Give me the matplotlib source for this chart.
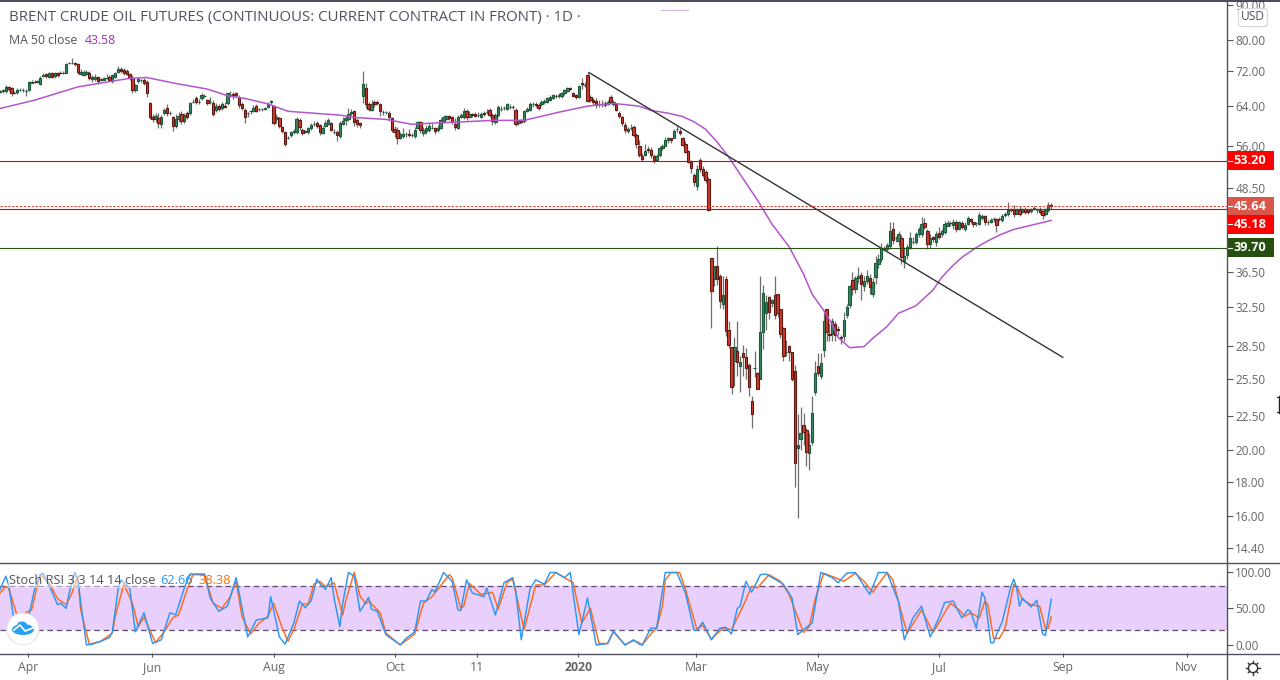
import numpy as np
import matplotlib
matplotlib.use("Agg")
import matplotlib.pyplot as plt
from matplotlib.patches import Circle, Ellipse, FancyBboxPatch, Rectangle

plt.rcParams["font.family"] = ["Open Sans", "DejaVu Sans"]

# --- daily OHLC, 10 bars per row ---
opens = [
    67.2,67.3,67.4,68.3,68.0,66.9,67.1,67.6,67.7,67.4,
    67.5,69.3,69.5,69.4,68.9,70.9,71.3,70.7,71.6,70.9,
    71.7,71.7,71.6,71.7,74.1,74.0,74.0,73.8,71.4,71.2,
    71.4,71.6,70.1,70.2,70.7,69.9,70.0,70.3,70.7,69.6,
    70.7,71.9,72.6,72.4,72.0,71.4,70.5,67.7,69.6,69.9,
    69.9,69.5,64.6,61.8,61.2,61.5,60.3,62.5,63.6,62.5,
    61.6,59.8,61.2,62.3,60.9,62.6,62.5,65.0,65.7,65.0,
    65.7,66.2,65.4,64.9,64.6,63.2,64.0,63.5,64.0,64.6,
    66.5,66.6,66.8,66.1,64.5,63.2,62.5,62.9,63.0,64.0,
    63.3,63.3,63.3,63.8,64.8,64.0,61.2,61.5,59.6,58.6,
    57.5,58.0,58.6,58.6,61.1,59.1,58.6,58.6,59.5,60.2,
    60.4,60.0,58.5,59.9,60.3,60.4,58.7,58.7,57.8,60.3,
    61.0,61.2,62.5,62.9,61.0,60.4,66.2,68.0,64.4,63.2,
    65.0,65.0,64.4,62.7,62.7,62.5,61.4,59.3,59.1,57.5,
    57.9,58.2,58.2,58.0,57.9,59.5,60.6,58.4,58.8,59.1,
    59.5,59.4,59.0,59.5,60.8,61.3,61.9,61.6,60.2,59.5,
    61.8,61.8,63.0,61.8,62.4,62.4,62.2,61.8,62.6,62.7,
    63.2,62.2,60.7,62.1,63.4,63.6,63.4,63.9,63.8,63.2,
    60.5,61.0,60.8,63.0,63.2,64.4,64.4,64.2,64.4,64.9,
    65.0,65.4,65.7,66.3,66.2,66.2,66.8,67.4,68.0,66.8,
    66.4,66.1,69.1,68.8,71.0,66.0,65.3,65.2,64.5,64.5,
    64.2,64.5,66.0,64.5,64.4,62.6,61.8,60.1,58.8,59.5,
    59.7,58.1,56.0,54.1,54.2,55.4,55.2,54.0,53.3,54.2,
    55.5,56.0,57.1,57.4,57.4,59.3,58.9,57.5,56.4,55.0,
    53.0,50.8,48.9,53.4,51.8,51.3,50.1,38.3,35.7,37.3,
    36.0,32.8,35.7,30.0,28.4,27.1,28.0,26.6,27.8,27.4,
    26.7,23.6,26.4,26.0,25.5,29.8,31.8,33.6,32.9,33.8,
    33.9,32.2,30.2,27.9,28.5,27.9,26.2,20.2,20.8,21.8,
    21.4,19.8,20.6,24.4,26.6,25.7,28.1,32.2,29.6,29.6,
    30.7,30.1,29.3,29.4,31.6,32.7,35.6,34.5,35.8,36.2,
    34.8,35.4,35.8,33.9,35.9,37.6,38.2,39.5,39.5,39.9,
    42.3,41.0,40.6,41.0,37.9,38.7,39.8,40.5,40.5,41.5,
    41.6,43.1,42.0,40.2,41.1,40.5,41.7,41.6,41.9,42.7,
    43.1,42.8,43.2,42.3,43.1,42.2,43.0,43.7,43.2,43.1,
    43.0,43.9,44.1,43.3,43.3,43.7,43.7,43.7,43.6,44.3,
    44.4,45.2,45.0,44.5,45.1,44.7,45.2,45.2,44.9,45.2,
    45.1,45.0,44.9,44.4,45.0,45.9,
]
closes = [
    67.4,67.6,68.3,67.9,66.8,67.0,67.7,67.7,67.7,67.3,
    69.4,69.5,69.4,69.6,70.5,71.1,70.8,71.6,70.7,71.5,
    71.0,71.6,71.7,73.8,74.0,74.0,73.8,71.8,71.9,71.9,
    71.9,70.4,70.6,70.7,69.6,70.1,70.3,70.4,69.8,71.0,
    71.5,72.6,72.0,71.6,71.4,70.5,67.6,68.7,70.1,69.9,
    69.1,66.8,61.8,61.2,62.0,60.4,61.6,63.2,62.6,62.5,
    59.8,61.2,62.0,60.8,62.2,61.8,64.6,65.0,65.0,65.0,
    66.4,66.3,64.6,65.0,62.4,64.0,63.3,64.4,63.9,66.8,
    66.5,66.5,66.5,64.3,63.6,61.8,62.5,62.9,63.7,63.0,
    63.3,63.3,63.6,64.5,65.1,60.4,61.8,59.8,58.8,56.4,
    57.5,58.6,58.8,61.3,59.6,58.4,58.8,59.4,60.1,60.3,
    59.8,58.7,59.4,60.5,61.0,59.1,58.7,58.0,60.5,60.9,
    61.4,62.4,62.8,60.7,60.2,60.0,68.9,64.4,63.4,64.4,
    64.4,64.6,63.0,62.7,62.7,61.6,59.1,58.7,57.5,58.2,
    58.2,58.2,58.1,58.0,59.1,60.6,59.1,59.1,59.5,59.9,
    59.5,58.8,59.5,61.0,61.7,61.9,61.4,60.7,59.6,61.8,
    62.2,63.0,61.7,62.3,62.2,62.0,62.2,62.3,62.3,62.8,
    62.2,60.8,62.2,63.9,63.4,63.6,64.4,63.9,63.8,60.2,
    60.8,60.7,62.9,63.4,64.4,64.4,64.3,63.6,65.0,65.2,
    65.7,66.0,66.4,66.2,66.5,66.8,67.5,68.0,67.9,66.2,
    65.9,68.5,68.9,68.8,65.2,65.3,64.8,64.3,64.5,64.5,
    64.7,64.9,65.0,65.0,63.2,61.9,60.4,59.1,59.3,59.5,
    58.1,56.4,54.2,53.6,55.0,55.1,54.2,53.2,54.0,55.5,
    56.0,57.1,57.4,57.1,58.9,59.3,58.4,56.2,54.8,53.0,
    52.0,49.5,51.7,51.7,50.8,49.9,45.1,34.3,37.3,35.7,
    33.1,33.8,29.9,28.6,24.8,28.4,27.0,27.0,27.4,26.4,
    24.8,22.6,26.4,24.6,29.8,34.0,33.0,31.9,33.2,31.6,
    31.8,29.6,27.5,27.9,27.9,25.5,19.2,20.4,21.2,21.3,
    19.9,20.4,22.7,26.0,26.0,26.9,31.0,29.8,29.5,31.0,
    29.5,30.0,29.2,31.1,32.5,34.8,34.5,35.8,36.0,35.1,
    35.4,36.0,34.7,35.3,37.7,38.2,39.6,39.6,40.0,42.0,
    40.7,41.0,41.6,38.5,38.6,39.8,41.0,40.5,41.5,42.2,
    43.0,42.6,40.2,41.0,40.8,41.6,41.2,42.0,43.0,43.1,
    43.1,43.2,42.3,43.2,42.6,42.9,43.8,43.4,43.0,43.1,
    44.3,44.2,43.2,43.3,43.5,43.7,42.9,43.7,44.2,44.5,
    45.1,45.0,44.4,45.0,44.4,45.1,44.8,44.8,45.2,45.4,
    45.1,44.7,44.3,45.0,45.8,45.6,
]
highs = [
    67.7,67.9,68.7,68.5,68.3,67.3,68.1,68.1,68.1,67.8,
    69.7,69.9,69.9,69.9,70.8,71.5,71.6,71.9,71.9,71.8,
    71.9,72.0,72.0,74.0,74.4,75.4,74.2,74.0,72.5,72.4,
    72.3,72.0,71.1,71.4,70.9,70.5,70.6,71.4,71.1,71.4,
    71.9,73.2,73.1,72.9,72.5,71.6,71.0,69.0,70.5,70.2,
    70.3,69.8,65.0,62.3,62.5,62.6,62.2,63.6,64.5,62.9,
    61.9,62.4,62.8,63.0,62.6,63.0,64.9,65.5,66.3,65.6,
    67.0,66.6,65.6,65.9,65.4,64.7,64.5,64.9,64.9,67.0,
    67.4,67.2,67.2,66.4,64.8,63.5,62.8,63.2,64.2,64.5,
    63.7,63.6,63.9,64.9,65.4,64.2,62.3,61.7,59.9,58.8,
    57.8,58.9,59.2,61.6,61.4,59.4,59.0,59.7,60.5,60.9,
    60.8,60.3,59.9,61.0,61.4,60.6,59.2,59.0,60.9,61.6,
    61.9,63.6,63.3,63.2,61.4,60.6,72.0,69.1,64.9,65.3,
    65.4,65.3,64.6,63.2,63.0,62.9,61.8,59.9,59.7,58.6,
    59.4,58.6,59.3,58.4,59.6,60.9,60.9,59.7,60.1,60.5,
    60.4,59.7,60.1,61.4,62.2,62.2,62.1,62.0,61.4,62.1,
    62.6,63.5,63.3,62.9,62.6,62.7,62.7,62.7,63.0,63.3,
    63.7,62.5,62.6,64.3,64.0,64.0,64.7,64.4,64.3,63.5,
    61.1,61.2,63.2,63.8,64.8,64.9,64.8,64.7,65.4,65.6,
    66.0,66.4,66.7,66.6,66.8,67.2,67.8,68.3,68.3,67.1,
    66.7,68.8,70.5,69.4,71.8,66.4,65.7,65.7,65.3,65.3,
    65.2,65.4,66.5,65.3,64.7,62.9,62.1,60.6,59.7,60.2,
    60.0,58.4,57.0,54.6,56.4,55.9,55.7,54.4,54.4,55.9,
    56.3,57.6,57.7,57.5,59.2,59.9,59.4,57.7,56.8,55.2,
    53.4,51.0,52.4,53.7,52.2,51.6,50.3,38.3,36.9,39.9,
    36.3,36.0,36.0,31.0,28.4,29.3,31.0,27.5,28.6,28.3,
    26.9,24.0,28.0,26.1,36.0,35.0,33.8,33.7,33.4,36.1,
    33.9,32.3,30.3,29.0,28.6,27.9,26.7,22.6,23.2,22.7,
    21.6,21.2,24.0,27.1,27.8,27.8,31.9,32.3,30.8,31.3,
    31.0,30.5,29.5,31.9,32.8,35.0,36.5,36.0,37.2,36.5,
    36.0,36.8,36.3,35.8,38.6,38.9,40.3,39.9,40.3,43.2,
    43.3,41.3,42.0,41.4,39.8,40.2,41.9,41.1,41.8,42.5,
    44.0,43.8,42.3,41.5,41.3,42.0,42.5,42.3,43.4,43.5,
    43.4,43.7,43.6,43.4,43.4,43.3,44.1,43.9,43.3,43.3,
    44.7,44.5,44.3,43.6,43.8,44.0,43.9,44.0,44.5,44.8,
    46.3,45.4,45.8,45.3,45.6,45.4,45.5,45.1,45.4,45.6,
    45.4,45.5,45.0,45.3,46.3,46.2,
]
lows = [
    66.9,67.0,67.0,67.3,66.2,66.6,66.6,67.3,67.2,66.3,
    67.3,69.1,69.1,69.1,68.8,70.7,70.5,70.4,70.4,70.5,
    70.7,71.3,71.3,71.5,73.7,73.7,73.3,71.4,71.1,70.9,
    71.2,70.0,69.4,69.7,69.0,69.6,69.8,70.1,69.6,69.3,
    70.3,71.6,71.6,71.2,71.1,70.0,67.0,67.1,69.2,69.5,
    68.7,65.9,61.3,60.7,60.6,59.4,59.4,62.2,62.0,62.1,
    58.9,59.4,60.6,60.2,60.5,61.2,62.2,64.6,64.5,64.5,
    65.3,65.9,64.2,64.5,61.9,62.8,62.9,63.1,63.6,64.2,
    66.0,65.6,65.9,63.5,63.1,60.4,61.8,62.3,62.7,62.7,
    63.0,62.9,63.1,63.5,64.4,60.0,60.4,59.4,58.4,55.9,
    57.2,57.7,58.3,58.3,59.0,58.0,58.4,58.3,59.1,59.8,
    59.5,58.0,58.3,59.6,60.0,58.8,58.2,56.9,57.4,60.0,
    60.1,60.9,62.2,59.8,59.6,59.5,64.6,63.7,62.9,62.9,
    63.8,64.2,61.9,62.2,62.3,61.1,58.6,57.7,56.3,57.2,
    57.4,57.7,57.7,57.7,57.5,59.2,58.5,57.8,58.2,58.7,
    59.2,58.3,58.7,59.3,60.5,61.0,61.1,60.2,59.1,59.3,
    61.5,61.2,61.0,61.4,61.8,61.7,61.8,61.4,61.9,62.3,
    61.8,60.0,60.3,61.8,63.0,63.2,63.1,63.4,63.3,59.9,
    60.1,60.4,60.5,62.7,62.9,63.9,63.9,63.2,64.1,64.5,
    64.7,65.1,65.5,65.7,65.8,65.8,66.5,67.1,67.5,65.9,
    65.6,65.8,67.8,68.3,64.8,64.9,64.3,63.7,63.9,63.8,
    63.8,64.2,64.6,64.1,62.9,61.5,59.8,58.5,58.5,59.0,
    57.6,55.5,53.9,53.2,54.0,54.7,53.8,52.8,53.1,53.9,
    55.2,56.6,56.6,56.6,57.8,58.6,58.0,56.0,54.6,52.8,
    51.1,48.8,48.2,51.2,50.4,49.4,44.9,30.2,34.9,35.0,
    32.4,32.3,29.4,28.3,24.2,24.9,25.7,24.4,25.7,25.5,
    24.0,21.6,25.6,24.6,25.5,28.2,30.0,31.2,32.5,31.2,
    31.4,29.2,27.1,27.5,27.1,25.3,17.7,15.9,20.0,20.4,
    19.0,18.7,20.4,24.1,25.7,25.5,27.4,28.9,28.9,28.9,
    28.9,29.5,28.7,28.9,31.3,32.4,33.8,34.1,35.2,33.2,
    34.3,35.1,33.9,33.6,35.1,37.1,37.8,39.2,39.2,39.5,
    40.2,40.4,39.9,37.6,37.0,38.2,39.5,40.2,40.2,41.1,
    41.2,42.3,39.5,39.6,40.4,39.9,40.9,41.2,41.6,42.7,
    42.7,42.3,41.9,42.1,42.3,42.0,42.8,43.1,42.6,42.7,
    42.8,43.6,42.8,42.9,43.1,43.3,41.8,43.4,43.3,44.0,
    44.1,44.7,44.0,44.4,44.1,44.6,44.5,44.5,44.6,45.0,
    44.6,44.4,43.7,44.1,44.8,45.2,
]

# MA 50 (bar index, price)
ma_bars = [0,12,27,35,45,51,61,72,79,85,93,100,111,118,123,134,143,152,161,171,182,194,204,
           213,222,226,232,237,241,245,249,253,258,263,268,274,279,282,286,289,291,293,295,300,303,308,
           312,318,324,327,331,334,339,343,347,352,359,365]
ma_vals = [63.5,65.3,68.3,69.2,70.3,70.5,69.1,67.8,66.3,65.7,64.5,62.9,62.4,62.1,61.6,61.2,60.2,60.5,60.7,61.0,61.0,62.7,64.0,
           64.6,64.0,63.1,62.5,61.8,60.7,59.2,56.7,53.9,50.1,46.6,43.0,39.8,36.3,33.9,32.1,30.6,29.3,28.8,28.3,28.4,29.2,30.4,
           31.8,32.6,34.4,35.9,37.4,38.4,39.7,40.6,41.4,42.2,42.9,43.5]
faint_bars = [229.5, 239]
faint_vals = [88.5, 88.5]

# Stoch RSI, turning points
k_bars = [0,1,2,3,5,7,10,12,14,15,18,20,21,23,24,26,27,30,32,35,38,39,41,42,45,47,50,53,56,59,61,64,66,71,73,76,79,82,86,89,93,94,97,99,102,104,106,108,110,
          111,113,115,116,118,119,121,123,125,128,129,131,134,139,141,144,146,148,150,151,154,157,159,160,162,164,168,169,172,175,178,179,181,184,186,189,191,193,196,198,201,204,207,211,213,217,220,
          222,223,226,228,231,235,238,241,242,244,247,250,252,254,256,257,259,261,264,266,272,275,277,279,282,285,289,291,294,297,302,305,308,312,314,317,320,323,326,328,331,
          333,334,336,337,339,341,342,344,345,346,348,351,352,353,354,355,358,360,362,363,365]
k_vals = [76,85,94,82,30,29,39,76,96,98,73,55,57,50,71,99,89,0,1,5,10,18,76,89,78,18,44,2,7,44,41,78,97,97,64,46,53,92,11,34,37,66,11,1,30,60,51,60,90,
          84,76,92,64,25,57,99,94,46,65,49,46,14,0,9,18,60,60,76,72,99,87,48,47,89,71,66,78,41,85,92,76,7,76,89,83,99,99,92,99,14,64,0,2,19,0,7,
          1,0,23,23,99,99,71,20,20,31,7,23,24,15,50,53,87,72,96,97,83,64,14,21,30,99,92,85,98,99,69,99,99,59,7,37,53,11,37,58,60,
          44,37,48,46,23,72,64,3,3,14,32,80,90,78,53,64,52,61,15,13,62.66]
d_bars = [0,2,3,6,11,13,14,17,20,23,25,27,28,31,35,39,40,43,46,48,50,54,57,60,62,65,67,71,74,77,80,82,84,87,90,93,95,98,100,102,105,107,109,
          111,113,116,119,120,123,125,127,128,132,134,139,144,147,150,156,157,160,161,163,167,171,173,176,178,182,186,189,193,196,199,202,205,208,211,213,217,220,
          222,223,226,228,230,231,233,236,238,242,244,247,251,254,258,261,263,267,271,274,276,279,281,283,286,290,293,297,300,303,308,310,313,315,320,324,328,330,
          333,335,337,340,342,343,345,347,349,352,353,355,358,361,363,364,365]
d_vals = [71,80,78,39,48,82,96,85,63,55,71,94,48,1,5,16,39,83,57,25,38,3,18,37,41,76,96,96,57,50,66,87,39,15,30,39,57,23,5,21,56,56,83,
          87,80,85,41,60,99,67,56,60,44,16,0,15,57,66,96,92,50,53,84,69,72,49,85,90,21,82,82,99,92,85,30,50,2,2,18,0,6,
          3,0,15,23,53,89,99,99,76,21,27,8,23,21,53,80,78,96,87,69,48,17,25,62,98,92,87,98,87,72,99,89,44,16,48,17,44,57,
          48,39,44,37,60,55,9,9,23,83,80,62,55,53,22,23,38.38]

# drawn levels and trend line
level_prices = [53.20, 45.18, 39.70]
level_colors = ["#e60000", "#e60000", "#2a5014"]
last_price = 45.64
trend_bars = [204.5, 369]
trend_vals = [71.7, 27.4]

price_ticks = [90, 80, 72, 64, 56, 48.5, 36.5, 32.5, 28.5, 25.5, 22.5, 20, 18, 16, 14.4]
stoch_ticks = [100, 50, 0]
date_bars = [9.7, 52.8, 95.1, 137.2, 165.6, 200.7, 241.7, 284, 326, 369, 412]
date_labels = ["Apr", "Jun", "Aug", "Oct", "11", "2020", "Mar", "May", "Jul", "Sep", "Nov"]

W, H = 1280, 680
PANE_R = 1227
BAR_PX = 2.88
TEXT = "#50535e"

fig = plt.figure(figsize=(W / 100, H / 100), dpi=100)
ax = fig.add_axes([0, (H - 562) / H, PANE_R / W, 561 / H])
st = fig.add_axes([0, (H - 653) / H, PANE_R / W, 90 / H], sharex=ax)

# --- price pane ---
bars = np.arange(len(opens))
o = np.array(opens)
c = np.array(closes)
up = c >= o
ax.set_yscale("log")
ax.vlines(bars, lows, highs, color="#6e6e6e", lw=0.9, zorder=2)
ax.bar(bars[up], (c - o)[up], bottom=o[up], width=0.8, color="#35875f", edgecolor="#1d5a3c", lw=0.8, zorder=3)
ax.bar(bars[~up], (o - c)[~up], bottom=c[~up], width=0.8, color="#cf3a2c", edgecolor="#5e1a12", lw=0.8, zorder=3)
ax.plot(ma_bars, ma_vals, color="#b455cc", lw=1.1, zorder=4)
ax.plot(faint_bars, faint_vals, color="#d9b3e6", lw=0.8, zorder=4)
ax.plot(trend_bars, trend_vals, color="#333333", lw=1.0, zorder=5)
for lv, col in zip(level_prices, level_colors):
    ax.axhline(lv, color=col, lw=0.8, zorder=5)
ax.axhline(last_price, color="#e5453a", lw=0.8, ls=(0, (2, 1.5)), zorder=5)

ax.set_xlim(0, PANE_R / BAR_PX)
ax.set_ylim(13.72, 91.3)
ax.yaxis.tick_right()
ax.set_yticks(price_ticks)
ax.set_yticklabels([f"{t:.2f}" for t in price_ticks])
ax.minorticks_off()
ax.tick_params(axis="y", length=4, width=0.8, color=TEXT, labelcolor="#666666", labelsize=8.5, pad=2)
ax.tick_params(axis="x", length=0, labelbottom=False)
for s in ax.spines.values():
    s.set_visible(False)

fig.text(9 / W, 1 - 17 / H, "BRENT CRUDE OIL FUTURES (CONTINUOUS: CURRENT CONTRACT IN FRONT) · 1D ·",
         color=TEXT, fontsize=10.8, va="center")
fig.text(9 / W, 1 - 41 / H, "MA 50 close", color=TEXT, fontsize=8.8, va="center")
fig.text(85 / W, 1 - 41 / H, "43.58", color="#a030c0", fontsize=8.8, va="center")

# --- stoch pane ---
st.axhspan(20, 80, color="#e9cffc", lw=0, zorder=1)
for lv in (20, 80):
    st.axhline(lv, color="#5d4a6e", lw=0.9, ls=(0, (4.5, 3)), zorder=2)
st.plot(k_bars, k_vals, color="#2f96f3", lw=1.05, zorder=4)
st.plot(d_bars, d_vals, color="#ff6a1a", lw=1.05, zorder=3)
st.set_ylim(-11, 112)
st.yaxis.tick_right()
st.set_yticks(stoch_ticks)
st.set_yticklabels([f"{t:.2f}" for t in stoch_ticks])
st.tick_params(axis="y", length=4, width=0.8, color=TEXT, labelcolor="#666666", labelsize=8.5, pad=2)
st.set_xticks(date_bars)
st.set_xticklabels(date_labels)
st.tick_params(axis="x", length=3, width=0.8, color=TEXT, labelcolor="#666666", labelsize=8.8, pad=3)
st.get_xticklabels()[5].set_fontweight("bold")
for s in st.spines.values():
    s.set_visible(False)

fig.text(9 / W, 1 - 580 / H, "Stoch RSI 3 3 14 14 close", color=TEXT, fontsize=9.2, va="center",
         bbox=dict(fc="white", ec="none", alpha=0.45, pad=1))
fig.text(160 / W, 1 - 580 / H, "62.66", color="#2196f3", fontsize=9.2, va="center")
fig.text(198 / W, 1 - 580 / H, "38.38", color="#ff6d00", fontsize=9.2, va="center")

# --- chrome: pane borders, price tags, USD button, logo, gear ---
ov = fig.add_axes([0, 0, 1, 1], facecolor="none")
ov.set_xlim(0, W)
ov.set_ylim(H, 0)
ov.axis("off")
ov.plot([0, W], [0.5, 0.5], color="#2a2e39", lw=1.2)
ov.plot([0, W], [562.5, 562.5], color=TEXT, lw=1.0)
ov.plot([0, W], [653.5, 653.5], color=TEXT, lw=1.0)
ov.plot([PANE_R, PANE_R], [0, H], color=TEXT, lw=1.0)

def price_tag(text, price, color, shift=0):
    # y of the price on the log scale, in image pixels
    y = H - ax.transData.transform((0, price))[1] + shift
    ov.add_patch(Rectangle((1227.5, y - 9.5), 46, 19, fc=color, ec="none", zorder=6))
    ov.plot([1228, 1232], [y, y], color="white", lw=0.8, zorder=7)
    ov.text(1250, y, text, color="white", fontsize=9.2, fontweight="bold", ha="center", va="center", zorder=7)

price_tag("53.20", 53.20, "#ff0000")
price_tag("45.64", 45.64, "#d9574a")
price_tag("45.18", 45.18, "#ff0000", 15)
price_tag("39.70", 39.70, "#27500f")

ov.add_patch(FancyBboxPatch((1238.5, 8.5), 29, 18, boxstyle="round,pad=0,rounding_size=3", fc="white", ec="#d6d8dd", lw=0.9, zorder=6))
ov.text(1253, 17, "USD", color=TEXT, fontsize=8.6, ha="center", va="center", zorder=7)

ov.add_patch(Circle((23, 629), 16, fc="white", ec="#e4e4e8", lw=0.8, zorder=6))
ov.add_patch(Ellipse((23, 629.5), 22, 11, fc="#29a0ef", ec="none", zorder=7))
ov.add_patch(Ellipse((22, 625), 10, 7, fc="#29a0ef", ec="none", zorder=7))
ov.plot([14, 20, 25, 33], [630, 625, 631, 628], color="white", lw=1.2, zorder=8)

ov.add_patch(Circle((1253, 668), 4.6, fc="none", ec="#333333", lw=1.0))
for a in np.arange(0, 360, 45):
    r = np.radians(a)
    ov.plot([1253 + 4.6 * np.cos(r), 1253 + 6.6 * np.cos(r)], [668 + 4.6 * np.sin(r), 668 + 6.6 * np.sin(r)], color="#333333", lw=1.0)

# resize cursor caught at the right edge
ov.plot([1279, 1279], [396, 413], color="#222222", lw=1.0)
ov.plot([1277, 1280, 1280, 1277], [397, 397, 412, 412], color="#222222", lw=0.8)

fig.savefig("out.png", dpi=100)
